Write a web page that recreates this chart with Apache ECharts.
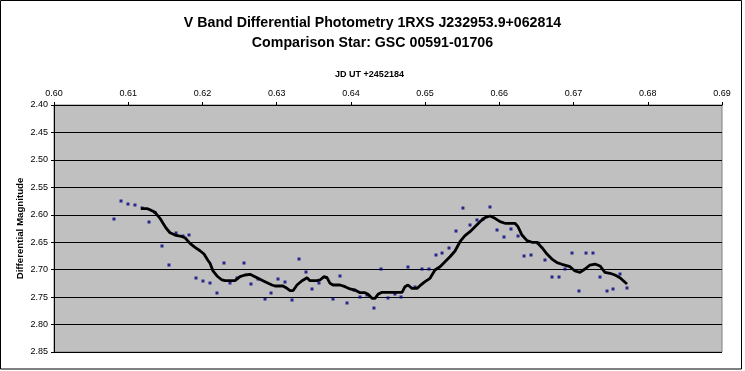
<!DOCTYPE html>
<html>
<head>
<meta charset="utf-8">
<script src="https://cdn.jsdelivr.net/npm/echarts@6/dist/echarts.min.js"></script>
<style>
html,body{margin:0;padding:0;background:#fff;}
#chart{width:745px;height:371px;}
</style>
</head>
<body>
<div id="chart"></div>
<script>
// Chart texts
const titleText = 'V Band Differential Photometry 1RXS J232953.9+062814\nComparison Star: GSC 00591-01706';
const xAxisName = 'JD UT +2452184';
const yAxisName = 'Differential Magnitude';

// Axis ranges
const xMin = 0.60, xMax = 0.69, xStep = 0.01;
const yMin = 2.40, yMax = 2.85, yStep = 0.05;

// Observations (JD fraction, differential magnitude)
const obsJD = [0.60808,0.60903,0.60997,0.61091,0.61186,0.61280,0.61361,0.61455,0.61549,0.61644,
  0.61738,0.61819,0.61913,0.62007,0.62102,0.62196,0.62290,0.62371,0.62466,0.62560,
  0.62654,0.62749,0.62843,0.62924,0.63018,0.63112,0.63207,0.63301,0.63395,0.63476,
  0.63570,0.63665,0.63759,0.63853,0.63948,0.64042,0.64123,0.64217,0.64311,0.64406,
  0.64500,0.64594,0.64675,0.64769,0.64864,0.64958,0.65052,0.65147,0.65228,0.65322,
  0.65416,0.65510,0.65605,0.65699,0.65780,0.65874,0.65969,0.66063,0.66157,0.66252,
  0.66333,0.66427,0.66521,0.66615,0.66710,0.66804,0.66885,0.66979,0.67073,0.67168,
  0.67262,0.67356,0.67451,0.67532,0.67626,0.67720];
const obsMag = [2.6077,2.5749,2.5804,2.5822,2.5877,2.6132,2.5960,2.6569,2.6915,2.6332,
  2.6387,2.6368,2.7152,2.7207,2.7243,2.7425,2.6879,2.7243,2.7152,2.6879,
  2.7261,2.7170,2.7535,2.7425,2.7170,2.7225,2.7553,2.6806,2.7043,2.7352,
  2.7243,2.7143,2.7535,2.7115,2.7607,2.7371,2.7498,2.7462,2.7699,2.6988,
  2.7516,2.7444,2.7498,2.6952,2.7316,2.6988,2.6988,2.6733,2.6697,2.6605,
  2.6296,2.5877,2.6186,2.6095,2.6077,2.5858,2.6277,2.6405,2.6259,2.6387,
  2.6751,2.6733,2.6514,2.6824,2.7134,2.7134,2.6988,2.6697,2.7389,2.6697,
  2.6697,2.7134,2.7389,2.7352,2.7079,2.7334];

// Trend line
const trendJD = [0.61172,0.61253,0.61293,0.61361,0.61428,0.61469,0.61509,0.61563,0.61630,0.61698,
  0.61765,0.61832,0.61900,0.61967,0.62021,0.62075,0.62102,0.62142,0.62196,0.62263,
  0.62304,0.62439,0.62506,0.62573,0.62641,0.62708,0.62775,0.62843,0.62937,0.62977,
  0.63085,0.63139,0.63180,0.63220,0.63274,0.63341,0.63382,0.63409,0.63449,0.63543,
  0.63584,0.63638,0.63678,0.63719,0.63759,0.63853,0.63921,0.63988,0.64055,0.64123,
  0.64190,0.64231,0.64285,0.64325,0.64365,0.64419,0.64567,0.64689,0.64729,0.64769,
  0.64823,0.64891,0.64931,0.64999,0.65066,0.65133,0.65201,0.65268,0.65335,0.65403,
  0.65470,0.65537,0.65605,0.65672,0.65739,0.65807,0.65874,0.65941,0.66009,0.66076,
  0.66211,0.66251,0.66305,0.66373,0.66440,0.66507,0.66575,0.66642,0.66709,0.66777,
  0.66844,0.66952,0.67019,0.67087,0.67154,0.67221,0.67289,0.67356,0.67423,0.67491,
  0.67558,0.67625,0.67693,0.67720];
const trendMag = [2.5889,2.5889,2.5908,2.5955,2.6064,2.6155,2.6241,2.6327,2.6369,2.6387,
  2.6418,2.6520,2.6593,2.6655,2.6715,2.6833,2.6884,2.7024,2.7115,2.7188,
  2.7201,2.7201,2.7128,2.7097,2.7084,2.7128,2.7176,2.7219,2.7279,2.7298,
  2.7298,2.7340,2.7383,2.7383,2.7279,2.7201,2.7170,2.7146,2.7201,2.7201,
  2.7188,2.7128,2.7146,2.7249,2.7279,2.7279,2.7310,2.7352,2.7371,2.7420,
  2.7420,2.7449,2.7522,2.7522,2.7449,2.7412,2.7412,2.7412,2.7310,2.7279,
  2.7340,2.7340,2.7292,2.7219,2.7157,2.7006,2.6946,2.6855,2.6764,2.6660,
  2.6491,2.6381,2.6308,2.6217,2.6126,2.6053,2.6022,2.6064,2.6126,2.6155,
  2.6155,2.6217,2.6369,2.6472,2.6501,2.6501,2.6600,2.6715,2.6806,2.6873,
  2.6902,2.6946,2.7024,2.7048,2.6988,2.6915,2.6897,2.6933,2.7048,2.7066,
  2.7097,2.7146,2.7230,2.7261];

const obsData = obsJD.map((x, i) => [x, obsMag[i]]);
const trendData = trendJD.map((x, i) => [x, trendMag[i]]);

const FONT = '"Liberation Sans", Arial, sans-serif';
const chart = echarts.init(document.getElementById('chart'), null, {renderer: 'canvas'});
chart.setOption({
  animation: false,
  backgroundColor: '#ffffff',
  title: {
    text: titleText,
    left: 'center',
    top: 8,
    textStyle: {fontFamily: FONT, fontSize: 14.2, fontWeight: 'bold', color: '#000', lineHeight: 20}
  },
  graphic: [{
    type: 'rect',
    shape: {x: 0.5, y: 0.5, width: 741, height: 368.5},
    style: {fill: null, stroke: '#000', lineWidth: 1},
    silent: true
  }],
  grid: {
    left: 54, right: 23, top: 105, bottom: 19,
    show: true, backgroundColor: '#c0c0c0', borderColor: '#808080', borderWidth: 1
  },
  xAxis: {
    type: 'value',
    position: 'top',
    min: xMin, max: xMax, interval: xStep,
    name: xAxisName,
    nameLocation: 'middle',
    nameGap: 26,
    nameMoveOverlap: false,
    nameTextStyle: {fontFamily: FONT, fontSize: 9, fontWeight: 'bold', color: '#000', padding: [0, 37, 0, 0]},
    axisLine: {show: true, onZero: false, lineStyle: {color: '#000', width: 1}},
    axisTick: {show: true, inside: false, length: 3, lineStyle: {color: '#000'}},
    axisLabel: {fontFamily: FONT, fontSize: 9, color: '#000', margin: 7, formatter: v => v.toFixed(2)},
    splitLine: {show: false}
  },
  yAxis: {
    type: 'value',
    inverse: true,
    min: yMin, max: yMax, interval: yStep,
    name: yAxisName,
    nameLocation: 'middle',
    nameRotate: 90,
    nameGap: 29,
    nameMoveOverlap: false,
    nameTextStyle: {fontFamily: FONT, fontSize: 9.7, fontWeight: 'bold', color: '#000'},
    axisLine: {show: true, onZero: false, lineStyle: {color: '#000', width: 1}},
    axisTick: {show: true, inside: false, length: 3, lineStyle: {color: '#000'}},
    axisLabel: {fontFamily: FONT, fontSize: 9, color: '#000', margin: 6, formatter: v => v.toFixed(2)},
    splitLine: {show: true, lineStyle: {color: '#000', width: 1}}
  },
  series: [
    {
      type: 'scatter',
      data: obsData,
      symbol: 'rect',
      symbolSize: 3,
      itemStyle: {color: '#000080'},
      z: 2
    },
    {
      type: 'line',
      data: trendData,
      showSymbol: false,
      symbol: 'none',
      lineStyle: {color: '#000', width: 2.8},
      z: 3
    }
  ]
});
</script>
</body>
</html>
